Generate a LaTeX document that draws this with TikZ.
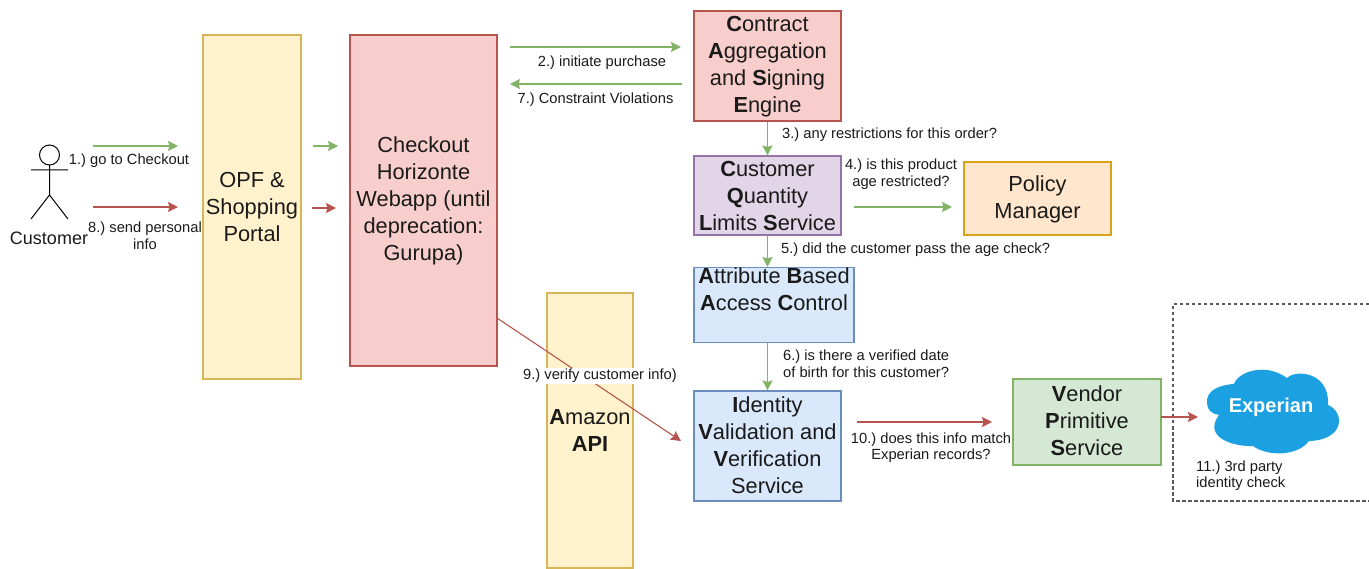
\documentclass[tikz,border=0pt]{standalone}
\usepackage{fontspec}
\setmainfont{Liberation Sans}
\usetikzlibrary{arrows.meta}
\definecolor{gfill}{HTML}{D5E8D4}\definecolor{gline}{HTML}{82B366}
\definecolor{rfill}{HTML}{F8CECC}\definecolor{rline}{HTML}{B85450}
\definecolor{yfill}{HTML}{FFF2CC}\definecolor{yline}{HTML}{D6B656}
\definecolor{pfill}{HTML}{E1D5E7}\definecolor{pline}{HTML}{9673A6}
\definecolor{bfill}{HTML}{DAE8FC}\definecolor{bline}{HTML}{6C8EBF}
\definecolor{ofill}{HTML}{FFE6CC}\definecolor{oline}{HTML}{D79B00}
\definecolor{cloudblue}{HTML}{1BA1E2}
\definecolor{inkc}{HTML}{1A1A1A}
\tikzset{
  box/.style={draw,line width=1.2pt,inner sep=0pt,align=center,text=inkc,font=\fontsize{21.8}{27}\selectfont},
  yellowbox/.style={box,fill=yfill,draw=yline},
  redbox/.style={box,fill=rfill,draw=rline},
  purplebox/.style={box,fill=pfill,draw=pline},
  bluebox/.style={box,fill=bfill,draw=bline},
  orangebox/.style={box,fill=ofill,draw=oline!70!yline},
  greenbox/.style={box,fill=gfill,draw=gline},
  lab/.style={inner sep=0pt,align=center,text=inkc,font=\frenchspacing\fontsize{14.7}{16.6}\selectfont},
  leftlab/.style={lab,anchor=west,align=left},
  tip/.style={-{Stealth[length=10pt,width=10pt,inset=1.5pt]}},
  garrow/.style={draw=gline,line width=1.5pt,tip},
  rarrow/.style={draw=rline,line width=1.5pt,tip},
  stick/.style={draw=black,line width=1pt}
}
\newcommand{\bi}[1]{\textbf{#1}}
\begin{document}
\begin{tikzpicture}[x=1pt,y=-1pt]
\useasboundingbox (0,0) rectangle (1369,569);
% dashed region
\draw[draw=black!65,line width=1.2pt,dash pattern=on 3.5pt off 2.5pt] (1369,304) -- (1173,304) -- (1173,501) -- (1369,501);
% boxes
\node[yellowbox,minimum width=98,minimum height=344] (opf) at (252,207) {OPF \&\\Shopping\\Portal};
\node[redbox,minimum width=147,minimum height=331] (checkout) at (423.5,200.5) {Checkout\\Horizonte\\Webapp (until\\deprecation:\\Gurupa)};
\node[yellowbox,minimum width=86,minimum height=275] (amazon) at (590,430.5) {\bi{A}mazon\\\bi{API}};
\node[redbox,minimum width=147,minimum height=110] (case) at (767.5,66) {\rule{0pt}{17pt}\bi{C}ontract\\\bi{A}ggregation\\and \bi{S}igning\\\bi{E}ngine};
\node[purplebox,minimum width=147,minimum height=79] (cqls) at (767.5,195.5) {\bi{C}ustomer\\\bi{Q}uantity\\\bi{L}imits \bi{S}ervice};
\node[bluebox,minimum width=160,minimum height=75,anchor=north] (abac) at (774,267) {\bi{A}ttribute \bi{B}ased\\\bi{A}ccess \bi{C}ontrol\\[4pt]\mbox{}};
\node[bluebox,minimum width=147,minimum height=110] (ivvs) at (767.5,446) {\bi{I}dentity\\\bi{V}alidation and\\\bi{V}erification\\Service\rule[-2pt]{0pt}{1pt}};
\node[orangebox,minimum width=147,minimum height=73] (policy) at (1037.5,198.5) {\rule{0pt}{17pt}Policy\\Manager};
\node[greenbox,minimum width=148,minimum height=86] (vendor) at (1087,422) {\bi{V}endor\\\bi{P}rimitive\\\bi{S}ervice\rule[-2pt]{0pt}{1pt}};
% cloud
\fill[cloudblue] (1207,403)
  .. controls (1206,391) and (1218,385) .. (1234,384)
  .. controls (1238,372) and (1265,362) .. (1287,378)
  .. controls (1296,369) and (1330,372) .. (1328,405)
  .. controls (1345,412) and (1345,440) .. (1309,441)
  .. controls (1298,456) and (1268,457) .. (1253,446)
  .. controls (1235,447) and (1202,438) .. (1219,415)
  .. controls (1212,414) and (1207,410) .. (1207,403) -- cycle;
\node[inner sep=0pt,text=white,font=\fontsize{20}{24}\selectfont\bfseries] (experian) at (1271,407) {Experian};
% stick figure
\coordinate (head) at (49.5,155);
\coordinate (neck) at (49.5,165);
\coordinate (hip) at (49.5,195);
\coordinate (armL) at (31,170);
\coordinate (armR) at (68,170);
\coordinate (legL) at (31,219);
\coordinate (legR) at (68,219);
\draw[stick] (head) circle[radius=10];
\draw[stick] (neck) -- (hip) (armL) -- (armR) (legL) -- (hip) -- (legR);
\node[lab,font=\fontsize{18}{20}\selectfont] (customer) at (49,238) {Customer};
% free connector ends
\coordinate (a1s) at (93,146); \coordinate (a1e) at (178,146);
\coordinate (a8s) at (93,207); \coordinate (a8e) at (178,207);
\coordinate (g2s) at (313,146); \coordinate (g2e) at (338,146);
\coordinate (r2s) at (312,208); \coordinate (r2e) at (336,208);
\coordinate (a2s) at (510,47); \coordinate (a2e) at (681,47);
\coordinate (a7s) at (682,84); \coordinate (a7e) at (510,84);
\coordinate (a4s) at (854,207); \coordinate (a4e) at (952,207);
\coordinate (a5e) at (767.5,267);
\coordinate (a6s) at (767.5,342);
\coordinate (a9s) at (497,318); \coordinate (a9e) at (681,441);
\coordinate (a10s) at (857,422); \coordinate (a10e) at (992,422);
\coordinate (a11s) at (1161,417); \coordinate (a11e) at (1198,417);
% connectors
\draw[garrow] (a1s) -- (a1e);
\draw[rarrow] (a8s) -- (a8e);
\draw[garrow] (g2s) -- (g2e);
\draw[rarrow] (r2s) -- (r2e);
\draw[garrow] (a2s) -- (a2e);
\draw[garrow] (a7s) -- (a7e);
\draw[garrow] (case.south) -- (cqls.north);
\draw[garrow] (a4s) -- (a4e);
\draw[garrow] (cqls.south) -- (a5e);
\draw[garrow] (a6s) -- (ivvs.north);
\draw[rarrow,line width=1.1pt] (a9s) -- (a9e);
\draw[rarrow] (a10s) -- (a10e);
\draw[rarrow] (a11s) -- (a11e);
% labels
\node[lab] (l1) at (129,161) {1.) go to Checkout};
\node[lab] (l8) at (145,236) {8.) send personal\\info};
\node[lab] (l2) at (602,63) {2.) initiate purchase};
\node[lab] (l7) at (595.5,100) {7.) Constraint Violations};
\node[leftlab] (l3) at (782,135) {3.) any restrictions for this order?};
\node[lab] (l4) at (901,174) {4.) is this product\\age restricted?};
\node[leftlab] (l5) at (781,250) {5.) did the customer pass the age check?};
\node[leftlab] (l6) at (783,364) {6.) is there a verified date\\of birth for this customer?};
\node[lab,fill=white,inner xsep=1pt,inner ysep=1pt] (l9) at (600,376) {9.) verify customer info)};
\node[lab] (l10) at (931,447.5) {10.) does this info match\\Experian records?};
\node[leftlab] (l11) at (1196,475.5) {11.) 3rd party\\identity check};
\end{tikzpicture}
\end{document}
